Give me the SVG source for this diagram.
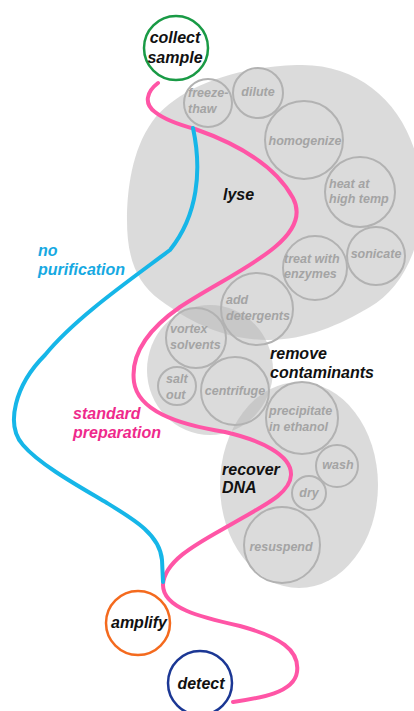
<svg xmlns="http://www.w3.org/2000/svg" width="414" height="711" viewBox="0 0 414 711">
<defs>
<style>
.area{fill:#b4b4b4;fill-opacity:0.48;stroke:none}
.step{fill:none;stroke:#b2b2b2;stroke-width:2}
.st{font-family:"Liberation Sans",Arial,sans-serif;font-style:italic;font-weight:bold;font-size:12.5px;fill:#a4a4a4}
.lab{font-family:"Liberation Sans",Arial,sans-serif;font-style:italic;font-weight:bold;font-size:16px;fill:#111}
.node{fill:#fff;stroke-width:2.5}
.pink{fill:none;stroke:#ff55a6;stroke-width:4;stroke-linecap:round}
.blue{fill:none;stroke:#16b6e8;stroke-width:4;stroke-linecap:round}
</style>
</defs>
<rect width="414" height="711" fill="#fff"/>

<g id="lyse">
<path class="area" d="M297,65 C370,62 422,120 422,200 C422,250 400,290 370,307 C340,325 305,340 268,340 C225,340 190,322 160,300 C135,282 127,255 127,220 C127,190 132,150 152,122 C175,90 230,67 297,65 Z"/>
<text class="lab" x="223" y="200">lyse</text>
</g>
<g id="remove-contaminants">
<ellipse class="area" cx="210" cy="370" rx="63" ry="65"/>
<text class="lab" x="270" y="359">remove</text>
<text class="lab" x="270" y="378">contaminants</text>
</g>
<g id="recover-dna">
<ellipse class="area" cx="299" cy="485" rx="79" ry="103"/>
<text class="lab" x="222" y="475">recover</text>
<text class="lab" x="222" y="493">DNA</text>
</g>

<g id="connectors">
<path id="standard-preparation" class="pink" d="M158,83 C146,92 144,104 155,112 C165,120 180,125 195,129 C235,143 275,165 293,198 C302,215 293,232 275,247 C250,268 210,287 180,307 C150,328 130,352 134,382 C138,410 175,424 225,432 C260,440 292,455 291,475 C290,495 260,507 230,525 C200,542 164,560 163,585 C163,608 200,617 240,626 C280,637 300,650 297,672 C294,693 260,698 233,702"/>
<path id="no-purification" class="blue" d="M193,128 C202,170 198,215 170,250 C130,280 75,318 45,355 C15,385 5,425 23,445 C40,465 80,487 107,503 C135,520 160,535 162,560 L163,582"/>
<text x="38" y="256" class="lab" style="fill:#16a9e2">no</text>
<text x="38" y="275" class="lab" style="fill:#16a9e2">purification</text>
<text x="73" y="419" class="lab" style="fill:#ef2a8c">standard</text>
<text x="73" y="438" class="lab" style="fill:#ef2a8c">preparation</text>
</g>

<g id="freeze-thaw"><circle class="step" cx="208" cy="103" r="24"/><text class="st" x="188" y="97">freeze-</text><text class="st" x="188" y="113">thaw</text></g>
<g id="dilute"><circle class="step" cx="258" cy="93" r="25"/><text class="st" x="258" y="96" text-anchor="middle">dilute</text></g>
<g id="homogenize"><circle class="step" cx="304" cy="140" r="39"/><text class="st" x="305" y="145" text-anchor="middle">homogenize</text></g>
<g id="heat"><circle class="step" cx="360" cy="192" r="35"/><text class="st" x="329" y="188">heat at</text><text class="st" x="329" y="203">high temp</text></g>
<g id="enzymes"><circle class="step" cx="315" cy="268" r="32"/><text class="st" x="284" y="263">treat with</text><text class="st" x="284" y="278">enzymes</text></g>
<g id="sonicate"><circle class="step" cx="376" cy="256" r="29"/><text class="st" x="376" y="258" text-anchor="middle">sonicate</text></g>
<g id="detergents"><circle class="step" cx="257" cy="309" r="36"/><text class="st" x="226" y="304">add</text><text class="st" x="226" y="320">detergents</text></g>
<g id="vortex"><circle class="step" cx="196" cy="338" r="30"/><text class="st" x="170" y="333">vortex</text><text class="st" x="170" y="349">solvents</text></g>
<g id="salt-out"><circle class="step" cx="177" cy="386" r="19"/><text class="st" x="166" y="383">salt</text><text class="st" x="166" y="399">out</text></g>
<g id="centrifuge"><circle class="step" cx="235" cy="391" r="34"/><text class="st" x="235" y="395" text-anchor="middle">centrifuge</text></g>
<g id="precipitate"><circle class="step" cx="302" cy="418" r="36"/><text class="st" x="269" y="415">precipitate</text><text class="st" x="269" y="431">in ethanol</text></g>
<g id="wash"><circle class="step" cx="337" cy="466" r="21"/><text class="st" x="338" y="469" text-anchor="middle">wash</text></g>
<g id="dry"><circle class="step" cx="309" cy="493" r="17"/><text class="st" x="309" y="497" text-anchor="middle">dry</text></g>
<g id="resuspend"><circle class="step" cx="282" cy="545" r="38"/><text class="st" x="281" y="551" text-anchor="middle">resuspend</text></g>

<g id="collect-sample"><circle class="node" cx="176" cy="48" r="32" stroke="#199a45"/><text class="lab" x="175" y="43" text-anchor="middle">collect</text><text class="lab" x="175" y="63" text-anchor="middle">sample</text></g>
<g id="amplify"><circle class="node" cx="138" cy="623" r="32" stroke="#f46a1e"/><text class="lab" x="139" y="628" text-anchor="middle">amplify</text></g>
<g id="detect"><circle class="node" cx="200" cy="683" r="32" stroke="#1b3794"/><text class="lab" x="201" y="689" text-anchor="middle">detect</text></g>
</svg>
